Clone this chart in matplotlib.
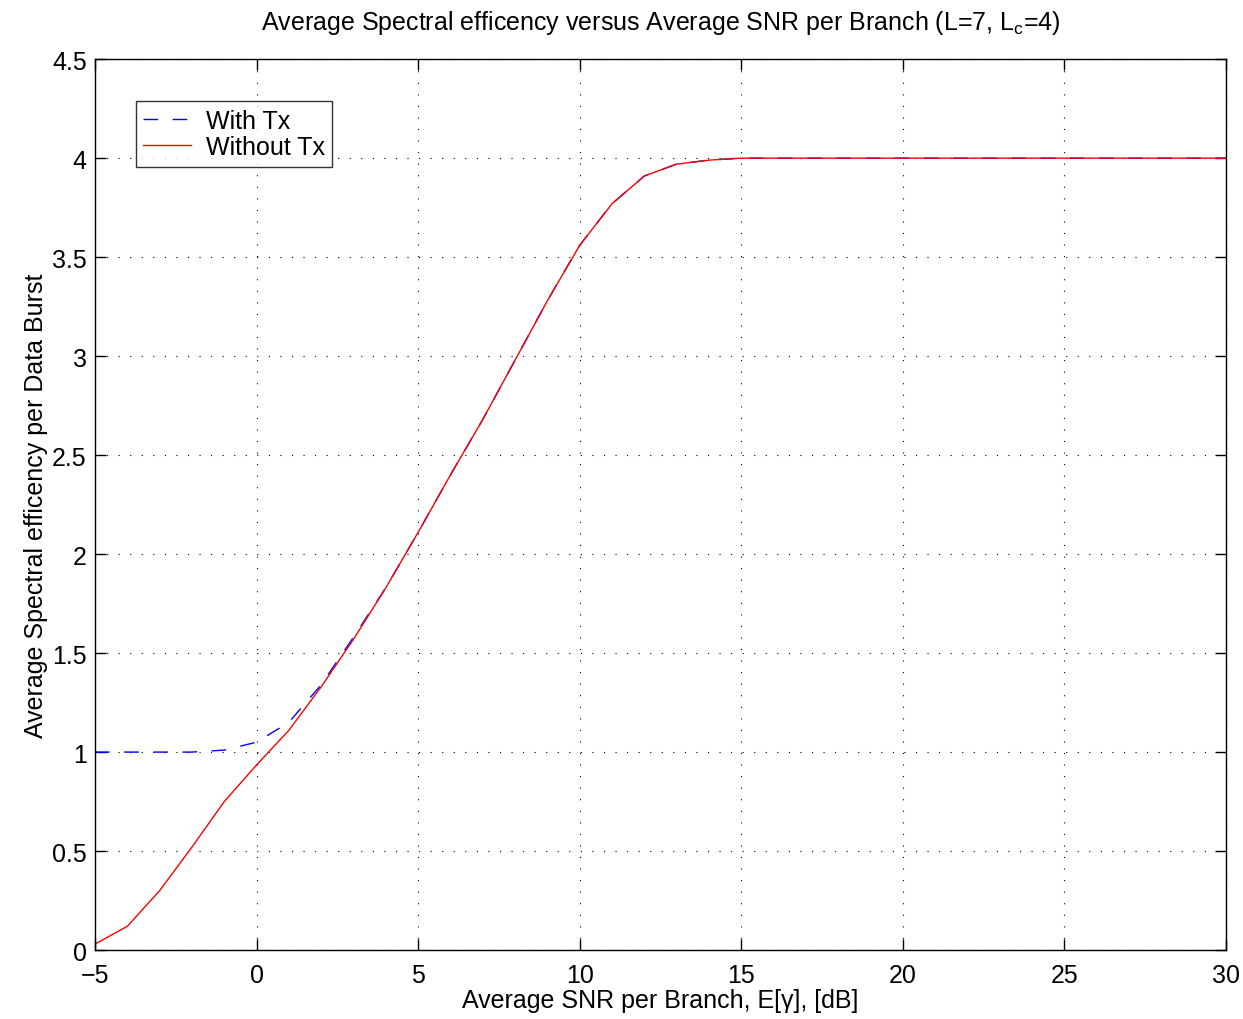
import numpy as np
import matplotlib

matplotlib.use("Agg")
import matplotlib.pyplot as plt

# SNR per branch in dB
snr_db = list(range(-5, 31))

# Average spectral efficiency, without transmit adaptation
without_tx = [0.03, 0.12, 0.30, 0.52, 0.75, 0.935, 1.11, 1.33, 1.57, 1.83,
              2.11, 2.40, 2.68, 2.98, 3.28, 3.56, 3.77, 3.91, 3.97, 3.99] + [4.0] * 16

# With transmit adaptation (floor at 1 for low SNR)
with_tx = [1.0, 1.0, 1.0, 1.0, 1.01, 1.05, 1.15, 1.34, 1.58, 1.83,
           2.11, 2.40, 2.68, 2.98, 3.28, 3.56, 3.77, 3.91, 3.97, 3.99] + [4.0] * 16

plt.rcParams["font.family"] = ["Liberation Sans", "DejaVu Sans"]
plt.rcParams["mathtext.fontset"] = "custom"
plt.rcParams["mathtext.rm"] = "Liberation Sans"
plt.rcParams["mathtext.it"] = "Liberation Sans:italic"

fig = plt.figure(figsize=(12.43, 10.2), dpi=100)
ax = fig.add_axes([0.0764, 0.0676, 0.9099, 0.8734])

ax.plot(snr_db, with_tx, color="blue", linestyle=(0, (10.5, 10.5)), linewidth=1.0, label="With Tx")
ax.plot(snr_db, without_tx, color="red", linestyle="-", linewidth=1.0, label="Without Tx")

ax.set_xlim(-5, 30)
ax.set_ylim(0, 4.5)
ax.set_xticks(np.arange(-5, 31, 5))
ax.set_yticks(np.arange(0, 4.51, 0.5))
ax.set_xticklabels(["\u22125", "0", "5", "10", "15", "20", "25", "30"])
ax.set_yticklabels(["0", "0.5", "1", "1.5", "2", "2.5", "3", "3.5", "4", "4.5"])

ax.grid(True, color="black", linestyle=(0, (1, 9.4)), linewidth=0.8)
ax.tick_params(direction="in", length=8, width=1, labelsize=18, top=True, right=True, pad=6)
ax.tick_params(axis="x", pad=9)
for sp in ax.spines.values():
    sp.set_linewidth(1.0)

ax.set_xlabel("Average SNR per Branch, E[\u03b3], [dB]", fontsize=18, labelpad=1)
ax.set_ylabel("Average Spectral efficency per Data Burst", fontsize=18, labelpad=3)
ax.set_title("Average Spectral efficency versus Average SNR per Branch (L=7, L$_\\mathregular{c}$=4)",
             fontsize=18, pad=22)

leg = ax.legend(loc="upper left", bbox_to_anchor=(0.036, 0.953), fontsize=18, frameon=True,
                fancybox=False, edgecolor="black", borderpad=0.3, handlelength=1.9,
                handletextpad=0.6, labelspacing=0.1, borderaxespad=0)
leg.get_frame().set_linewidth(1.0)

fig.savefig("out.png", dpi=100)
